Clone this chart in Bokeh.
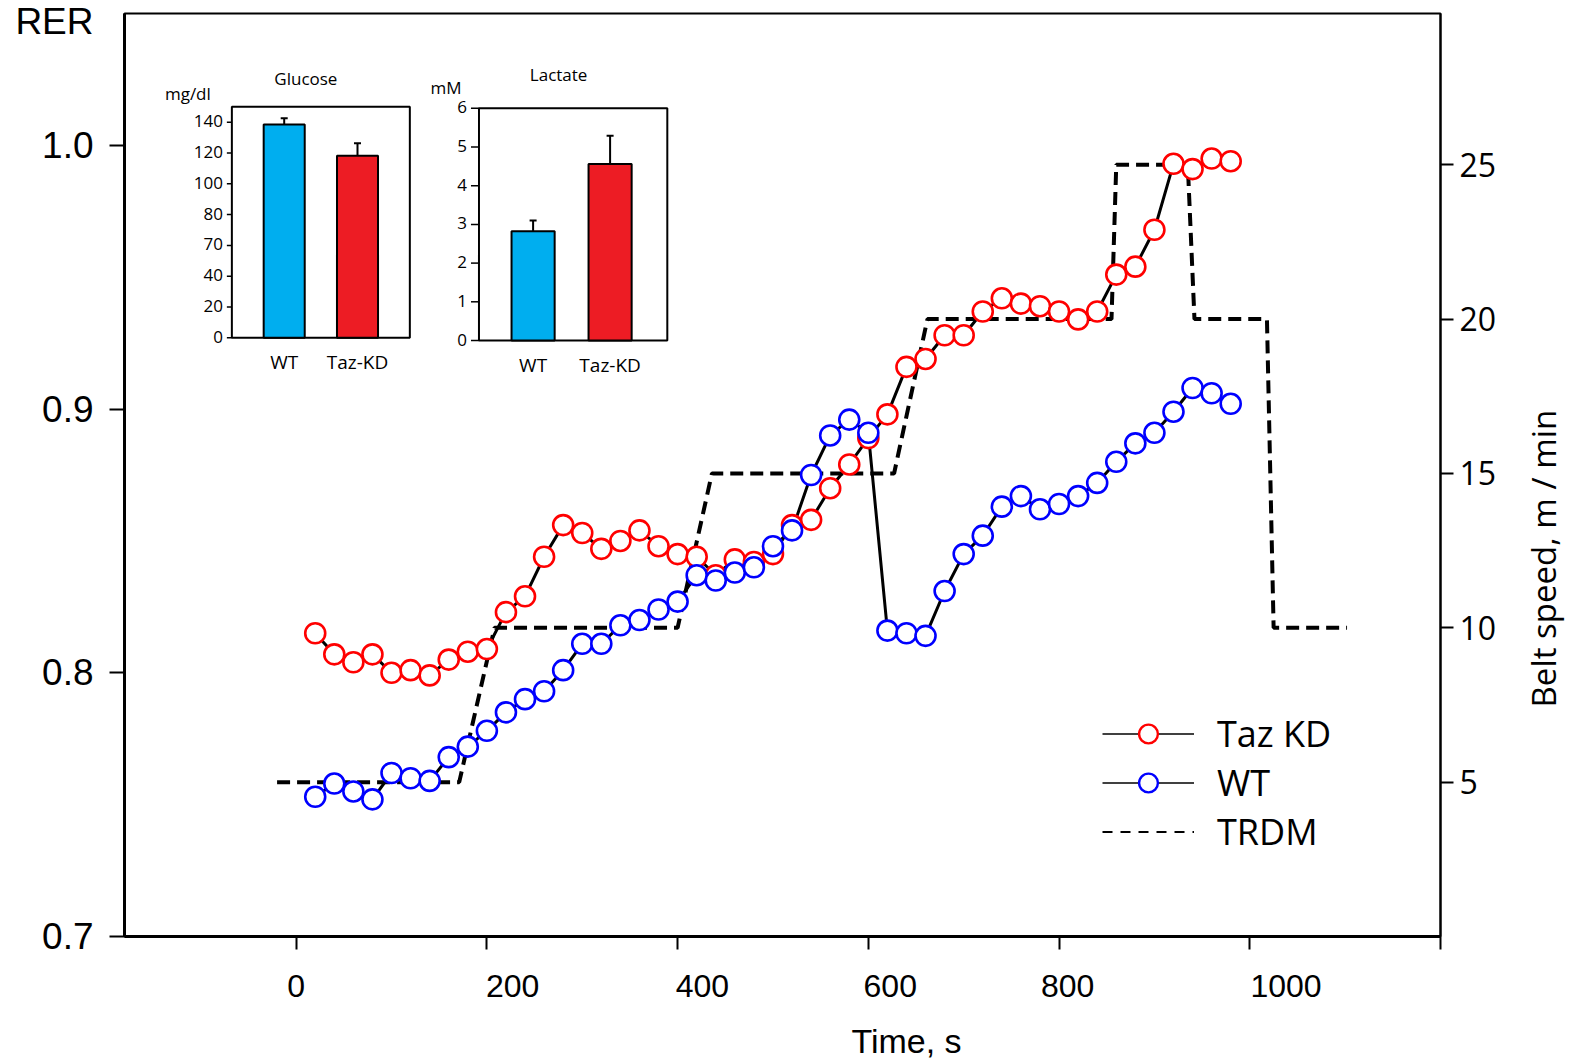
import math
import numpy as np
from bokeh.plotting import figure
from bokeh.models import (Range1d, LinearAxis, FixedTicker, CustomJSTickFormatter,
                          Legend, LegendItem, ColumnDataSource)
from bokeh.embed import file_html
from bokeh.resources import INLINE
from bokeh.core.properties import value

# ---------------- data ----------------
time_s = [20, 40, 60, 80, 100, 120, 140, 160, 180, 200, 220, 240, 260, 280, 300, 320, 340,
          360, 380, 400, 420, 440, 460, 480, 500, 520, 540, 560, 580, 600, 620, 640, 660,
          680, 700, 720, 740, 760, 780, 800, 820, 840, 860, 880, 900, 920, 940, 960, 980]
rer_taz = [0.815, 0.807, 0.804, 0.807, 0.800, 0.801, 0.799, 0.805, 0.808, 0.809, 0.823, 0.829,
           0.844, 0.856, 0.853, 0.847, 0.850, 0.854, 0.848, 0.845, 0.844, 0.837, 0.843, 0.842,
           0.845, 0.856, 0.858, 0.870, 0.879, 0.889, 0.898, 0.916, 0.919, 0.928, 0.928, 0.937,
           0.942, 0.940, 0.939, 0.937, 0.934, 0.937, 0.951, 0.954, 0.968, 0.993, 0.991, 0.995,
           0.994]
rer_wt = [0.753, 0.758, 0.755, 0.752, 0.762, 0.760, 0.759, 0.768, 0.772, 0.778, 0.785, 0.790,
          0.793, 0.801, 0.811, 0.811, 0.818, 0.820, 0.824, 0.827, 0.837, 0.835, 0.838, 0.840,
          0.848, 0.854, 0.875, 0.890, 0.896, 0.891, 0.816, 0.815, 0.814, 0.831, 0.845, 0.852,
          0.863, 0.867, 0.862, 0.864, 0.867, 0.872, 0.880, 0.887, 0.891, 0.899, 0.908, 0.906,
          0.902]
trdm_t = [-20, 171, 208, 400, 436, 627, 662, 855, 860, 935, 942, 1018, 1025, 1102]
trdm_speed = [5, 5, 10, 10, 15, 15, 20, 20, 25, 25, 20, 20, 10, 10]

categories = ["WT", "Taz-KD"]
glucose_mean = [138.5, 118.2]
glucose_err = [4.1, 8.2]
glucose_ticks = [0, 20, 40, 60, 80, 100, 120, 140]
glucose_tick_labels = ["0", "20", "40", "70", "80", "100", "120", "140"]
lactate_mean = [2.82, 4.56]
lactate_err = [0.28, 0.73]
lactate_ticks = [0, 1, 2, 3, 4, 5, 6]
lactate_tick_labels = ["0", "1", "2", "3", "4", "5", "6"]

x_ticks = [0, 200, 400, 600, 800, 1000, 1200]
x_tick_labels = ["0", "200", "400", "600", "800", "1000"]
rer_ticks = [0.7, 0.8, 0.9, 1.0]
speed_ticks = [5, 10, 15, 20, 25]

# ---------------- layout constants ----------------
W, H = 1591, 1062
FL, FR, FT, FB = 124, 1440, 13, 936
RER_TITLE_AT = 1.0475                  # "RER" title height (RER units)
BELT_TITLE_AT = 7.42                   # start of right-axis title (belt-speed units)
TIME_TITLE_AT = 640                    # centre of x-axis title (s)
X_LABEL_SHIFT = [0, 27, 26, 23, 9, 38]  # x tick labels sit right of their ticks
bar_colors = ["#00AEEF", "#ED1C24"]


def lin_range(p_a, v_a, p_b, v_b, p_lo, p_hi):
    k = (v_b - v_a) / (p_b - p_a)
    return Range1d(start=v_a + (p_lo - p_a) * k, end=v_a + (p_hi - p_a) * k)


def bare_axis(axis):
    axis.axis_line_color = None
    axis.major_tick_line_color = None
    axis.minor_tick_line_color = None
    axis.major_tick_in = 0
    axis.major_tick_out = 0
    return axis


p = figure(width=W, height=H, output_backend="svg", toolbar_location=None,
           x_range=Range1d(-180, 1200), y_range=Range1d(0.7, 1.05),
           min_border_left=FL, min_border_right=W - FR, min_border_top=FT,
           min_border_bottom=H - FB, title=None)
p.xgrid.visible = False
p.ygrid.visible = False
p.outline_line_color = "black"
p.outline_line_width = 2
p.background_fill_color = "white"
p.border_fill_color = "white"

p.extra_y_ranges = {
    "speed": Range1d(0, 29.9),
    "gy": lin_range(337.3, 0, 121.7, 140, FB, FT),
    "ly": lin_range(340.0, 0, 107.8, 6, FB, FT),
}
p.extra_x_ranges = {
    "gx": lin_range(283.7, 0, 357.0, 1, FL, FR),
    "lx": lin_range(532.6, 0, 609.6, 1, FL, FR),
}

# x axis: spine + tick marks
xa = p.xaxis[0]
xa.ticker = FixedTicker(ticks=x_ticks)
xa.formatter = CustomJSTickFormatter(code="return '';")
xa.major_label_text_font_size = "1px"
xa.major_label_standoff = 0
xa.minor_tick_line_color = None
xa.major_tick_in = 0
xa.major_tick_out = 13
xa.major_tick_line_width = 2
xa.axis_line_width = 3

# x axis: tick labels
xl = bare_axis(LinearAxis(
    ticker=FixedTicker(ticks=[t + s for t, s in zip(x_ticks, X_LABEL_SHIFT)]),
    formatter=CustomJSTickFormatter(args=dict(labels=x_tick_labels),
                                    code="return labels[index];")))
xl.major_label_standoff = 25
xl.major_label_text_font = "Liberation Sans"
xl.major_label_text_font_size = "32px"
xl.major_label_text_color = "black"
p.add_layout(xl, "below")

# x axis: title
xt = bare_axis(LinearAxis(ticker=FixedTicker(ticks=[TIME_TITLE_AT]),
                          formatter=CustomJSTickFormatter(args=dict(title="Time, s"),
                                                          code="return title;")))
xt.major_label_standoff = 22
xt.major_label_text_font = "Liberation Sans"
xt.major_label_text_font_size = "34px"
xt.major_label_text_color = "black"
p.add_layout(xt, "below")

# left axis: spine + tick marks only
ya = p.yaxis[0]
ya.ticker = FixedTicker(ticks=rer_ticks)
ya.formatter = CustomJSTickFormatter(code="return '';")
ya.minor_tick_line_color = None
ya.major_tick_in = 0
ya.major_tick_out = 15
ya.major_tick_line_width = 2
ya.axis_line_width = 3
ya.major_label_standoff = 0

# left axis: tick labels and the "RER" title
la = bare_axis(LinearAxis(
    ticker=FixedTicker(ticks=rer_ticks + [RER_TITLE_AT]),
    formatter=CustomJSTickFormatter(args=dict(title="RER"),
                                    code="return tick > 1.02 ? title : tick.toFixed(1);")))
la.major_label_standoff = 16
la.major_label_text_font = "Liberation Sans"
la.major_label_text_font_size = "37px"
la.major_label_text_color = "black"
p.add_layout(la, "left")

# right axis
ra = LinearAxis(y_range_name="speed", ticker=FixedTicker(ticks=speed_ticks))
ra.minor_tick_line_color = None
ra.major_tick_in = 0
ra.major_tick_out = 13
ra.major_tick_line_width = 2
ra.axis_line_width = 2
ra.major_label_text_font = "Open Sans"
ra.major_label_text_font_size = "32px"
ra.major_label_text_color = "black"
ra.major_label_standoff = 6
p.add_layout(ra, "right")

# right axis title
bt = bare_axis(LinearAxis(y_range_name="speed", ticker=FixedTicker(ticks=[BELT_TITLE_AT]),
                          formatter=CustomJSTickFormatter(args=dict(title="Belt speed, m / min"),
                                                          code="return title;")))
bt.major_label_orientation = math.pi / 2
bt.major_label_standoff = 44
bt.major_label_text_font = "Open Sans"
bt.major_label_text_font_size = "33px"
bt.major_label_text_color = "black"
p.add_layout(bt, "right")

# ---------------- main series ----------------
src = ColumnDataSource(dict(t=time_s, taz=rer_taz, wt=rer_wt))
p.line(trdm_t, trdm_speed, y_range_name="speed", line_color="black", line_width=4,
       line_dash="13 7")
p.line("t", "taz", source=src, line_color="black", line_width=3)
p.line("t", "wt", source=src, line_color="black", line_width=3)
p.scatter("t", "taz", source=src, marker="circle", size=20, line_color="#FF0000",
          fill_color="white", line_width=2.6)
p.scatter("t", "wt", source=src, marker="circle", size=20, line_color="#0000FF",
          fill_color="white", line_width=2.6)

# ---------------- legend (proxy renderers, nothing drawn in the plot) ----------------
proxy = ColumnDataSource(dict(x=np.array([np.nan]), y=np.array([np.nan])))
lg_l1 = p.line("x", "y", source=proxy, line_color="black", line_width=1.6)
lg_p1 = p.scatter("x", "y", source=proxy, marker="circle", size=20, line_color="#FF0000",
                  fill_color="white", line_width=2.4)
lg_l2 = p.line("x", "y", source=proxy, line_color="black", line_width=1.6)
lg_p2 = p.scatter("x", "y", source=proxy, marker="circle", size=20, line_color="#0000FF",
                  fill_color="white", line_width=2.4)
lg_l3 = p.line("x", "y", source=proxy, line_color="black", line_width=2, line_dash="10 8")
legend = Legend(items=[LegendItem(label="Taz KD", renderers=[lg_l1, lg_p1]),
                       LegendItem(label="WT", renderers=[lg_l2, lg_p2]),
                       LegendItem(label="TRDM", renderers=[lg_l3])],
                location=(978, 80), padding=0, margin=0, spacing=0,
                glyph_width=92, glyph_height=47, label_height=47,
                label_standoff=23, label_text_font="Open Sans",
                label_text_font_size="36px", label_text_color="black",
                border_line_alpha=0, background_fill_alpha=0)
p.add_layout(legend)


# ---------------- insets ----------------
def inset(xr, yr, means, errs, box_x, box_top, ticks, tick_labels, tick_len,
          unit, unit_dx, unit_dy, title, title_dx, title_dy):
    kw = dict(x_range_name=xr, y_range_name=yr)
    xs = list(range(len(categories)))
    tops = [m + e for m, e in zip(means, errs)]
    p.quad(left=[box_x[0]], right=[box_x[1]], bottom=[0], top=[box_top],
           fill_color=None, line_color="black", line_width=2, **kw)
    p.vbar(x=xs, top=means, bottom=0, width=0.56, fill_color=bar_colors,
           line_color="black", line_width=2, **kw)
    p.segment(x0=xs, y0=means, x1=xs, y1=tops, line_color="black", line_width=2, **kw)
    p.scatter(x=xs, y=tops, marker="dash", size=7, line_color="black", line_width=2, **kw)
    p.ray(x=[box_x[0]] * len(ticks), y=ticks, length=tick_len, length_units="screen",
          angle=math.pi, line_color="black", line_width=1.5, **kw)
    p.text(x=[box_x[0]] * len(ticks), y=ticks, text=tick_labels, x_offset=-tick_len - 4,
           y_offset=-1, text_align="right", text_baseline="middle",
           text_font=value("Open Sans"), text_font_size="17px", text_color="black", **kw)
    p.text(x=xs, y=[0, 0], text=categories, y_offset=24, text_align="center",
           text_baseline="middle", text_font=value("Open Sans"), text_font_size="19px",
           text_color="black", **kw)
    p.text(x=[box_x[0]], y=[box_top], text=[unit], x_offset=unit_dx, y_offset=unit_dy,
           text_align="center", text_baseline="middle", text_font=value("Open Sans"),
           text_font_size="17px", text_color="black", **kw)
    p.text(x=[0.5], y=[box_top], text=[title], x_offset=title_dx, y_offset=title_dy,
           text_align="center", text_baseline="middle", text_font=value("Open Sans"),
           text_font_size="17px", text_color="black", **kw)


inset("gx", "gy", glucose_mean, glucose_err, (-0.714, 1.714), 150, glucose_ticks,
      glucose_tick_labels, 5, "mg/dl", -44, -13, "Glucose", -15, -28)
inset("lx", "ly", lactate_mean, lactate_err, (-0.703, 1.743), 6, lactate_ticks,
      lactate_tick_labels, 8, "mM", -33, -21, "Lactate", -13, -34)

open("out.html", "w").write(file_html(p, INLINE))
